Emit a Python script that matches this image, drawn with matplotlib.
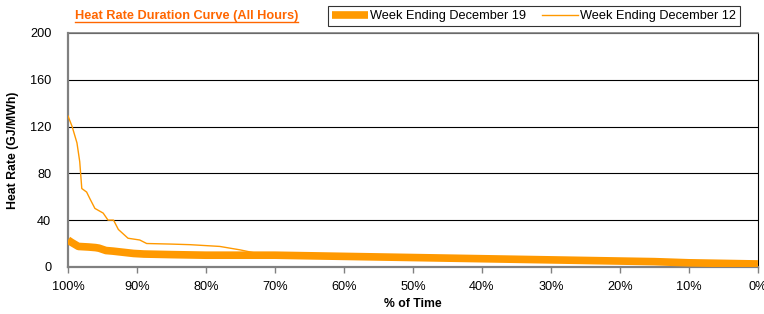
import matplotlib

matplotlib.use("Agg")
import matplotlib.pyplot as plt
from matplotlib.lines import Line2D

plt.rcParams["font.family"] = ["Liberation Sans", "DejaVu Sans"]

# percent of time (100 -> 0) and heat rate values
pct_dec19 = [100, 99.5, 98.5, 97, 96, 95.5, 94.5, 93.5, 92, 90.5, 89, 85, 80, 75, 70, 60,
             50, 40, 30, 20, 15, 10, 5, 0]
hr_dec19 = [23, 21, 17.5, 17, 16.5, 16, 14, 13.5, 12.5, 11.5, 11, 10.5, 10, 10, 10, 9,
            8, 7, 6, 5, 4.5, 3.5, 3, 2.5]

pct_dec12 = [100, 99.4, 98.7, 98.3, 98.0, 97.3, 96.8, 96.1, 94.9, 94.2, 93.4, 92.7,
             91.3, 89.6, 88.6, 85, 82.3, 78, 75, 73, 70, 60, 50, 40, 30, 20, 15, 10, 5, 0]
hr_dec12 = [129, 120, 106, 90, 67, 64, 58, 50, 46, 40, 40, 32,
            24.5, 23, 20, 19.5, 19, 17.5, 14.5, 12, 11.5, 10, 9, 8, 7, 6, 4.5, 3.5, 3, 2.5]

y_ticks = [0, 40, 80, 120, 160, 200]
x_ticks = [100, 90, 80, 70, 60, 50, 40, 30, 20, 10, 0]

ORANGE = "#FF9900"
FS = 9.2

fig = plt.figure(figsize=(7.64, 3.14), dpi=100)
ax = fig.add_axes([0.089, 0.150, 0.903, 0.745])

ax.plot(pct_dec19, hr_dec19, color=ORANGE, lw=5.5, solid_capstyle="butt",
        solid_joinstyle="round", label="Week Ending December 19", zorder=3)
ax.plot(pct_dec12, hr_dec12, color=ORANGE, lw=1.0, label="Week Ending December 12", zorder=4)

ax.set_xlim(100, 0)
ax.set_ylim(0, 200)
ax.set_xticks(x_ticks)
ax.set_xticklabels([f"{t}%" for t in x_ticks])
ax.set_yticks(y_ticks)
ax.tick_params(axis="both", labelsize=FS, colors="black")
ax.tick_params(axis="y", length=0, pad=12)
ax.tick_params(axis="x", length=4, width=1, color="#808080", direction="out", pad=6)
ax.yaxis.grid(True, color="black", lw=0.8)
ax.set_axisbelow(True)

for side in ("left", "bottom", "top"):
    ax.spines[side].set_color("#808080")
ax.spines["left"].set_linewidth(1.6)
ax.spines["bottom"].set_linewidth(1.6)
ax.spines["top"].set_linewidth(1.2)
ax.spines["right"].set_color("black")
ax.spines["right"].set_linewidth(0.8)

ax.set_xlabel("% of Time", fontsize=8.8, fontweight="bold", labelpad=4)
ax.set_ylabel("Heat Rate (GJ/MWh)", fontsize=8.8, fontweight="bold", labelpad=8)

title = fig.text(0.098, 0.948, "Heat Rate Duration Curve (All Hours)", fontsize=FS,
                 fontweight="bold", color="#FF6600", va="center", ha="left")

leg = fig.legend(loc="center", bbox_to_anchor=(0.699, 0.948), ncol=2, fontsize=FS,
                 frameon=True, fancybox=False, edgecolor="black", handlelength=2.8,
                 columnspacing=1.3, handletextpad=0.15, borderpad=0.3)
leg.get_frame().set_linewidth(0.8)

# underline the title
fig.canvas.draw()
bb = title.get_window_extent().transformed(fig.transFigure.inverted())
fig.add_artist(Line2D([bb.x0, bb.x1], [bb.y0 + 0.002, bb.y0 + 0.002],
                      transform=fig.transFigure, color="#FF6600", lw=1.0))

fig.savefig("out.png", dpi=100)
